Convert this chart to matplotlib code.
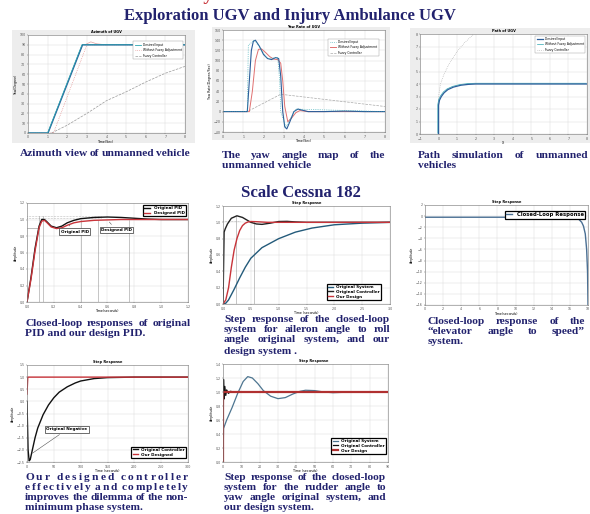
import matplotlib
matplotlib.use('Agg')
import matplotlib.pyplot as plt
from matplotlib.patches import Rectangle

# ---- data ----
# Azimuth of UGV
az_in_t = [0, 1.0, 2.75, 8]
az_in_y = [0, 0, 90, 90]
az_blue_t = [0, 1.02, 2.78, 8]
az_blue_y = [0, 0, 90, 90]
az_red_t = [0, 1.3, 3.0, 8]
az_red_y = [0, 0, 90, 90]
az_bump_t = [2.9, 3.2, 3.5, 4.0]
az_bump_y = [90, 93, 91, 90]
az_gray_t = [1.2, 2, 3, 4, 5, 6, 7, 8]
az_gray_y = [0, 8, 20, 33, 42, 52, 61, 68]

# Yaw rate of UGV
yaw_blue_t = [0, 1.2, 1.3, 1.4, 1.5, 1.6, 1.8, 2.0, 2.2, 2.4, 2.6, 2.75, 2.85, 2.95,
              3.05, 3.15, 3.3, 3.5, 3.7, 3.9, 4.2, 5, 6, 7, 8]
yaw_blue_y = [0, 0, 60, 120, 138, 140, 128, 112, 104, 102, 106, 104, 70, 0,
              -30, -34, -20, 0, 5, 3, 0, 0, 1, 0, 0]
yaw_red_t = [0, 1.3, 1.45, 1.6, 1.75, 1.9, 2.1, 2.3, 2.5, 2.7, 2.85, 2.95, 3.05,
             3.2, 3.4, 3.6, 3.8, 4.2, 8]
yaw_red_y = [0, 0, 40, 100, 122, 123, 116, 108, 103, 102, 95, 60, 10,
             -20, -12, -2, 2, 0, 0]
yaw_in_t = [0, 1.2, 1.25, 1.55, 2.2, 2.7, 2.8, 2.85, 3.1, 3.6, 8]
yaw_in_y = [0, 0, 130, 140, 104, 106, 60, 0, -30, 5, 0]
yaw_gray_t = [0, 1.2, 2.85, 8]
yaw_gray_y = [0, 0, 34, 10]

# Path of UGV
path_x = [0, 0, 0.05, 0.15, 0.3, 0.5, 0.8, 1.2, 1.6, 2.0, 8]
path_y = [0, 2.3, 2.7, 3.0, 3.3, 3.55, 3.75, 3.9, 3.97, 4.0, 4.0]
path_gray_x = [0, 0.02, 0.1, 0.3, 0.6, 1.0, 1.4, 1.9]
path_gray_y = [2.4, 3.2, 4.0, 4.8, 5.7, 6.6, 7.3, 8.0]

# PID comparison
pid_t = [0, 0.03, 0.06, 0.09, 0.11, 0.13, 0.15, 0.18, 0.22, 0.26, 0.3, 0.35, 0.4,
         0.5, 0.6, 0.7, 0.8, 0.9, 1.0, 1.1, 1.2]
pid_orig = [0, 0.3, 0.65, 0.92, 1.0, 1.0, 0.97, 0.92, 0.9, 0.92, 0.96, 0.99, 1.01,
            1.025, 1.03, 1.025, 1.015, 1.005, 1.0, 1.0, 1.0]
pid_design = [0, 0.28, 0.62, 0.9, 0.98, 0.99, 0.96, 0.91, 0.89, 0.9, 0.93, 0.96, 0.975,
              0.99, 0.995, 1.0, 1.0, 1.0, 1.0, 1.0, 1.0]

# Aileron -> roll
ail_sys_t = [0, 0.05, 0.1, 0.2, 0.3, 0.4, 0.5, 0.7, 1.0, 1.3, 1.6, 2.0, 2.5, 3.0]
ail_sys_y = [0, 0.01, 0.05, 0.18, 0.32, 0.45, 0.56, 0.69, 0.8, 0.88, 0.93, 0.97, 0.99, 1.0]
ail_ctl_t = [0, 0.02, 0.04, 0.08, 0.15, 0.25, 0.35, 0.5, 0.6, 0.7, 0.85, 1.0, 1.15,
             1.3, 1.5, 2, 3]
ail_ctl_y = [0, 0.88, 0.92, 0.98, 1.05, 1.08, 1.06, 1.0, 0.98, 0.975, 0.99, 1.01,
             1.012, 1.005, 1.0, 1.0, 1.0]
ail_des_t = [0, 0.05, 0.1, 0.15, 0.2, 0.25, 0.3, 0.35, 0.4, 0.45, 0.5, 0.6, 0.8, 1.0, 3]
ail_des_y = [0, 0.05, 0.2, 0.45, 0.66, 0.8, 0.9, 0.96, 0.99, 1.005, 1.01, 1.008, 1.0, 1.0, 1.0]

# Elevator -> speed
elv_t = [0, 16, 16.5, 17, 17.3, 17.5, 17.7, 17.85, 17.95, 18]
elv_y = [-0.2, -0.2, -0.3, -0.6, -1.1, -1.8, -3.2, -6, -10, -16]

# Non-minimum phase
nmp_t = [0, 2, 4, 6, 10, 15, 20, 30, 40, 50, 60, 75, 90, 100, 125, 150, 200, 300]
nmp_orig = [0, -2.0, -2.45, -2.4, -2.0, -1.5, -1.1, -0.55, -0.15, 0.15, 0.38, 0.6,
            0.76, 0.84, 0.94, 0.98, 1.0, 1.0]
nmp_des_t = [0, 1.5, 300]
nmp_des_y = [0.3, 1, 1]

# Rudder -> yaw
rud_sys_t = [0, 0.3, 2, 5, 8, 11, 13.5, 16, 19, 22, 26, 30, 34, 38, 42, 45, 50, 55, 60, 70, 90]
rud_sys_y = [0, 0.48, 0.6, 0.78, 0.98, 1.15, 1.22, 1.2, 1.12, 1.02, 0.94, 0.905, 0.92,
             0.97, 1.01, 1.025, 1.02, 1.0, 0.99, 1.0, 1.0]
rud_ctl_t = [0, 0.3, 0.6, 1, 1.5, 2, 3, 4, 6, 90]
rud_ctl_y = [0, 1.18, 0.9, 1.08, 0.95, 1.03, 0.98, 1.01, 1.0, 1.0]
rud_des_t = [0, 0, 90]
rud_des_y = [0, 1, 1]

NAVY = '#22226e'
RED = '#c8343a'
BLUE = '#2b5d9a'
TEAL = '#2ca6b0'

W, H = 590, 514
fig = plt.figure(figsize=(5.9, 5.14), dpi=100)
fig.patch.set_facecolor('white')
renderer = fig.canvas.get_renderer()


def rect(x0, y0, x1, y1):
    return [x0 / W, 1 - y1 / H, (x1 - x0) / W, (y1 - y0) / H]


def style(ax, xlim, xticks, ylim, yticks, title=None, xlabel=None, ylabel=None):
    ax.set_xlim(xlim)
    ax.set_ylim(ylim)
    ax.set_xticks(xticks)
    ax.set_yticks(yticks)
    ax.tick_params(labelsize=2.3, length=1, width=0.3, colors='#555', pad=0.8)
    ax.grid(True, color='#dcdcdc', lw=0.35)
    for s in ax.spines.values():
        s.set_linewidth(0.4)
        s.set_color('#777')
    if title:
        ax.set_title(title, fontsize=2.5, fontweight='bold', pad=1.2)
    if xlabel:
        ax.set_xlabel(xlabel, fontsize=2.3, labelpad=0.5)
    if ylabel:
        ax.set_ylabel(ylabel, fontsize=2.3, labelpad=1)


def gray_bg(x0, y0, x1, y1):
    fig.add_artist(Rectangle((x0 / W, 1 - y1 / H), (x1 - x0) / W, (y1 - y0) / H,
                             transform=fig.transFigure, facecolor='#ededed',
                             edgecolor='none', zorder=-1))


cap_kw = dict(fontsize=8.2, fontweight='bold', family='Liberation Serif', color=NAVY,
              va='center', ha='left')


def caption(lines, x0, x1, ys, letters=()):
    for i, (line, y) in enumerate(zip(lines, ys)):
        fy = 1 - y / H
        if i == len(lines) - 1 and len(lines) > 1:
            fig.text(x0 / W, fy, line, **cap_kw)
            continue
        if i in letters:
            chars = [c for c in line if c != ' ']
            weights = []
            for j, c in enumerate(line):
                if c == ' ':
                    weights[-1] += 2
                elif j < len(line) - 1:
                    weights.append(1)
            weights = weights[:len(chars) - 1]
            tokens = chars
        else:
            tokens = line.split()
            weights = [1] * (len(tokens) - 1)
        texts = [fig.text(0, fy, tok, **cap_kw) for tok in tokens]
        widths = [t.get_window_extent(renderer).width for t in texts]
        unit = (x1 - x0 - sum(widths)) / max(sum(weights), 1)
        x = x0
        for j, (t, w) in enumerate(zip(texts, widths)):
            t.set_position((x / W, fy))
            if j < len(weights):
                x += w + unit * weights[j]


# ---- headings ----
fig.text(11 / W, 1.0, 'Research Results of Key', fontsize=14,
         fontweight='bold', family='Liberation Serif', color=RED, va='baseline')
fig.text(290 / W, 1 - 16 / H, 'Exploration UGV and Injury Ambulance UGV', fontsize=12,
         fontweight='bold', family='Liberation Serif', color=NAVY, ha='center', va='center')
fig.text(301 / W, 1 - 193 / H, 'Scale Cessna 182', fontsize=12,
         fontweight='bold', family='Liberation Serif', color=NAVY, ha='center', va='center')

# ---- 1: azimuth ----
gray_bg(12, 30, 195, 143)
ax = fig.add_axes(rect(28, 35, 185, 133))
ax.plot(az_gray_t, az_gray_y, color='#999999', lw=0.5, ls='--', label='Fuzzy Controller')
ax.plot(az_red_t, az_red_y, color='#e08080', lw=0.5, ls=':', label='Without Fuzzy Adjustment')
ax.plot(az_bump_t, az_bump_y, color='#e0a0a0', lw=0.5)
ax.plot(az_blue_t, az_blue_y, color=BLUE, lw=1.0)
ax.plot(az_in_t, az_in_y, color=TEAL, lw=0.6, label='Desired Input')
style(ax, (0, 8), range(0, 9), (0, 100), range(0, 101, 10), 'Azimuth of UGV', 'Time(Sec)', 'Yaw(Degree)')
h, l = ax.get_legend_handles_labels()
ax.legend(h[::-1], l[::-1], fontsize=2.2, loc='upper right', bbox_to_anchor=(1.0, 0.95),
          frameon=True, fancybox=False, edgecolor='#999', framealpha=1, borderpad=0.4,
          handlelength=2).get_frame().set_linewidth(0.3)
caption(['Azimuth  view of unmanned  vehicle'], 20, 190, [153])

# ---- 2: yaw rate ----
gray_bg(212, 27, 390, 140)
ax = fig.add_axes(rect(223, 30, 385, 132))
ax.plot(yaw_gray_t, yaw_gray_y, color='#aaaaaa', lw=0.5, ls='--', label='Fuzzy Controller')
ax.plot(yaw_red_t, yaw_red_y, color='#e07070', lw=0.7, label='Without Fuzzy Adjustment')
ax.plot(yaw_blue_t, yaw_blue_y, color=BLUE, lw=0.8)
ax.plot(yaw_in_t, yaw_in_y, color=TEAL, lw=0.5, ls=':', label='Desired Input')
style(ax, (0, 8), range(0, 9), (-40, 160), range(-40, 161, 20), 'Yaw Rate of UGV',
      'Time(Sec)', 'Yaw Rate(Degree/Sec)')
h, l = ax.get_legend_handles_labels()
ax.legend(h[::-1], l[::-1], fontsize=2.2, loc='upper right', bbox_to_anchor=(0.97, 0.93),
          frameon=True, fancybox=False, edgecolor='#999', framealpha=1, borderpad=0.4,
          handlelength=2).get_frame().set_linewidth(0.3)
caption(['The  yaw  angle  map  of  the', 'unmanned vehicle'], 222, 385, [156, 166])

# ---- 3: path ----
gray_bg(410, 28, 590, 143)
ax = fig.add_axes(rect(420, 34, 587, 134))
ax.plot(path_gray_x, path_gray_y, color='#aaaaaa', lw=0.5, ls=':', label='Fuzzy Controller')
ax.plot([v - 0.04 for v in path_x], [v + 0.06 for v in path_y], color=TEAL, lw=0.5,
        label='Without Fuzzy Adjustment')
ax.plot(path_x, path_y, color=BLUE, lw=0.9, label='Desired Input')
style(ax, (-1, 8), range(-1, 9), (0, 8), range(0, 9), 'Path of UGV', 'X', None)
h, l = ax.get_legend_handles_labels()
ax.legend(h[::-1], l[::-1], fontsize=2.2, loc='upper right', frameon=True, fancybox=False,
          edgecolor='#999', framealpha=1, borderpad=0.4,
          handlelength=2).get_frame().set_linewidth(0.3)
caption(['Path  simulation  of  unmanned', 'vehicles'], 418, 588, [156, 166])

# ---- 4: PID ----
ax = fig.add_axes(rect(27, 203, 188, 302))
for xv in (0.09, 0.12):
    ax.plot([xv, xv], [0, 1.04], color='#999', lw=0.4)
for xv in (0.4, 0.53, 0.76):
    ax.plot([xv, xv], [0, 1.0], color='#999', lw=0.4)
for yv in (1.02, 1.04):
    ax.plot([0, 0.55], [yv, yv], color='#888', lw=0.4, ls=':')
ax.plot([0, 0.09], [0.9, 0.9], color='#888', lw=0.4)
ax.plot(pid_t, pid_orig, color='#111', lw=1.0, label='Original PID')
ax.plot(pid_t, pid_design, color=RED, lw=1.0, label='Designed PID')
style(ax, (0, 1.2), [0, 0.2, 0.4, 0.6, 0.8, 1, 1.2], (0, 1.2), [0, 0.2, 0.4, 0.6, 0.8, 1, 1.2],
      None, 'Time(seconds)', 'Amplitude')
box = dict(boxstyle='square,pad=0.3', fc='white', ec='#333', lw=0.5)
ax.annotate('Original PID', xy=(0.3, 0.96), xytext=(0.25, 0.84), fontsize=3, fontweight='bold',
            bbox=box, arrowprops=dict(arrowstyle='-', color='#555', lw=0.4))
ax.annotate('Designed PID', xy=(0.6, 0.995), xytext=(0.55, 0.86), fontsize=3, fontweight='bold',
            bbox=box, arrowprops=dict(arrowstyle='-', color='#555', lw=0.4))
leg = ax.legend(loc='upper right', bbox_to_anchor=(1.0, 1.0), frameon=True,
                fancybox=False, edgecolor='black', framealpha=1, borderpad=0.3,
                handlelength=1.5, labelspacing=0.2, prop=dict(size=3, weight='bold'))
leg.get_frame().set_linewidth(0.9)
caption(['Closed-loop  responses  of   original', 'PID and our design PID.'], 25, 191, [323, 334])

# ---- 5: aileron ----
ax = fig.add_axes(rect(223, 206, 390, 304))
ax.plot([0.24, 0.24], [0, 1.08], color='#999', lw=0.4)
ax.plot([0.56, 0.56], [0, 1.01], color='#999', lw=0.4)
ax.plot([0, 0.3], [1.02, 1.02], color='#888', lw=0.4, ls=':')
ax.plot(ail_sys_t, ail_sys_y, color='#235a7a', lw=1.0, label='Original System')
ax.plot(ail_ctl_t, ail_ctl_y, color='#222', lw=1.0, label='Original Controller')
ax.plot(ail_des_t, ail_des_y, color=RED, lw=1.0, label='Our Design')
style(ax, (0, 3), [0, 0.5, 1, 1.5, 2, 2.5, 3], (0, 1.2), [0, 0.2, 0.4, 0.6, 0.8, 1, 1.2],
      'Step Response', 'Time (seconds)', 'Amplitude')
leg = ax.legend(loc='lower right', bbox_to_anchor=(0.96, 0.02), frameon=True, fancybox=False,
                edgecolor='black', framealpha=1, borderpad=0.3, handlelength=1.2,
                labelspacing=0.2, prop=dict(size=3, weight='bold'))
leg.get_frame().set_linewidth(0.9)
caption(['Step  response  of  the  closed-loop', 'system  for  aileron  angle  to  roll',
         'angle  original  system,  and   our', 'design system .'], 224, 390, [320, 330, 340, 351])

# ---- 6: elevator ----
ax = fig.add_axes(rect(425, 205, 588, 305))
ax.plot(elv_t, elv_y, color='#4a6f93', lw=1.0, label='Closed-Loop Response')
style(ax, (0, 18), range(0, 19, 2), (-16, 2), range(-16, 3, 2), 'Step Response',
      'Time(seconds)', 'Amplitude')
leg = ax.legend(loc='upper right', bbox_to_anchor=(1.0, 0.97), frameon=True, fancybox=False,
                edgecolor='black', framealpha=1, borderpad=0.3, handlelength=1.2,
                prop=dict(size=3.8, weight='bold'))
leg.get_frame().set_linewidth(0.9)
caption(['Closed-loop    response    of    the', '\u201celevator    angle    to    speed\u201d',
         'system.'], 428, 585, [322, 332, 342])

# ---- 7: non-minimum phase ----
ax = fig.add_axes(rect(27, 365, 188, 462))
ax.plot(nmp_t, nmp_orig, color='#111', lw=1.0, label='Original Controller')
ax.plot(nmp_des_t, nmp_des_y, color=RED, lw=1.0, label='Our Designed')
style(ax, (0, 300), range(0, 301, 50), (-2.5, 1.5), [-2.5, -2, -1.5, -1, -0.5, 0, 0.5, 1, 1.5],
      'Step Response', 'Time (seconds)', 'Amplitude')
ax.annotate('Original Negative', xy=(6, -2.2), xytext=(36, -1.2), fontsize=3, fontweight='bold',
            bbox=box, arrowprops=dict(arrowstyle='-', color='#555', lw=0.4))
leg = ax.legend(loc='lower right', bbox_to_anchor=(1.0, 0.02), frameon=True, fancybox=False,
                edgecolor='black', framealpha=1, borderpad=0.3, handlelength=1.2,
                labelspacing=0.2, prop=dict(size=3, weight='bold'))
leg.get_frame().set_linewidth(0.9)
caption(['Our designed controller', 'effectively and completely',
         'improves the dilemma of the non-', 'minimum phase system.'], 25, 188,
        [478, 488, 498, 507], letters=(0, 1))

# ---- 8: rudder ----
ax = fig.add_axes(rect(223, 364, 388, 462))
ax.plot(rud_sys_t, rud_sys_y, color='#4d7590', lw=0.9, label='Original System')
ax.plot(rud_ctl_t, rud_ctl_y, color='#111', lw=0.9, label='Original Controller')
ax.plot(rud_des_t, rud_des_y, color='#b03030', lw=1.6, label='Our Design')
style(ax, (0, 90), range(0, 91, 10), (0, 1.4), [0, 0.2, 0.4, 0.6, 0.8, 1, 1.2, 1.4],
      None, 'Time (seconds)', 'Amplitude')
ax.text(0.55, 1.01, 'Step Response', transform=ax.transAxes, fontsize=2.5,
        fontweight='bold', ha='center', va='bottom')
leg = ax.legend(loc='lower right', bbox_to_anchor=(1.0, 0.06), frameon=True, fancybox=False,
                edgecolor='black', framealpha=1, borderpad=0.3, handlelength=1.2,
                labelspacing=0.2, prop=dict(size=3, weight='bold'))
leg.get_frame().set_linewidth(0.9)
caption(['Step  response  of  the  closed-loop', 'system  for  the  rudder  angle  to',
         'yaw  angle  original  system,  and', 'our design system.'], 224, 386,
        [477, 487, 497, 507])

fig.savefig('out.png', dpi=100)
